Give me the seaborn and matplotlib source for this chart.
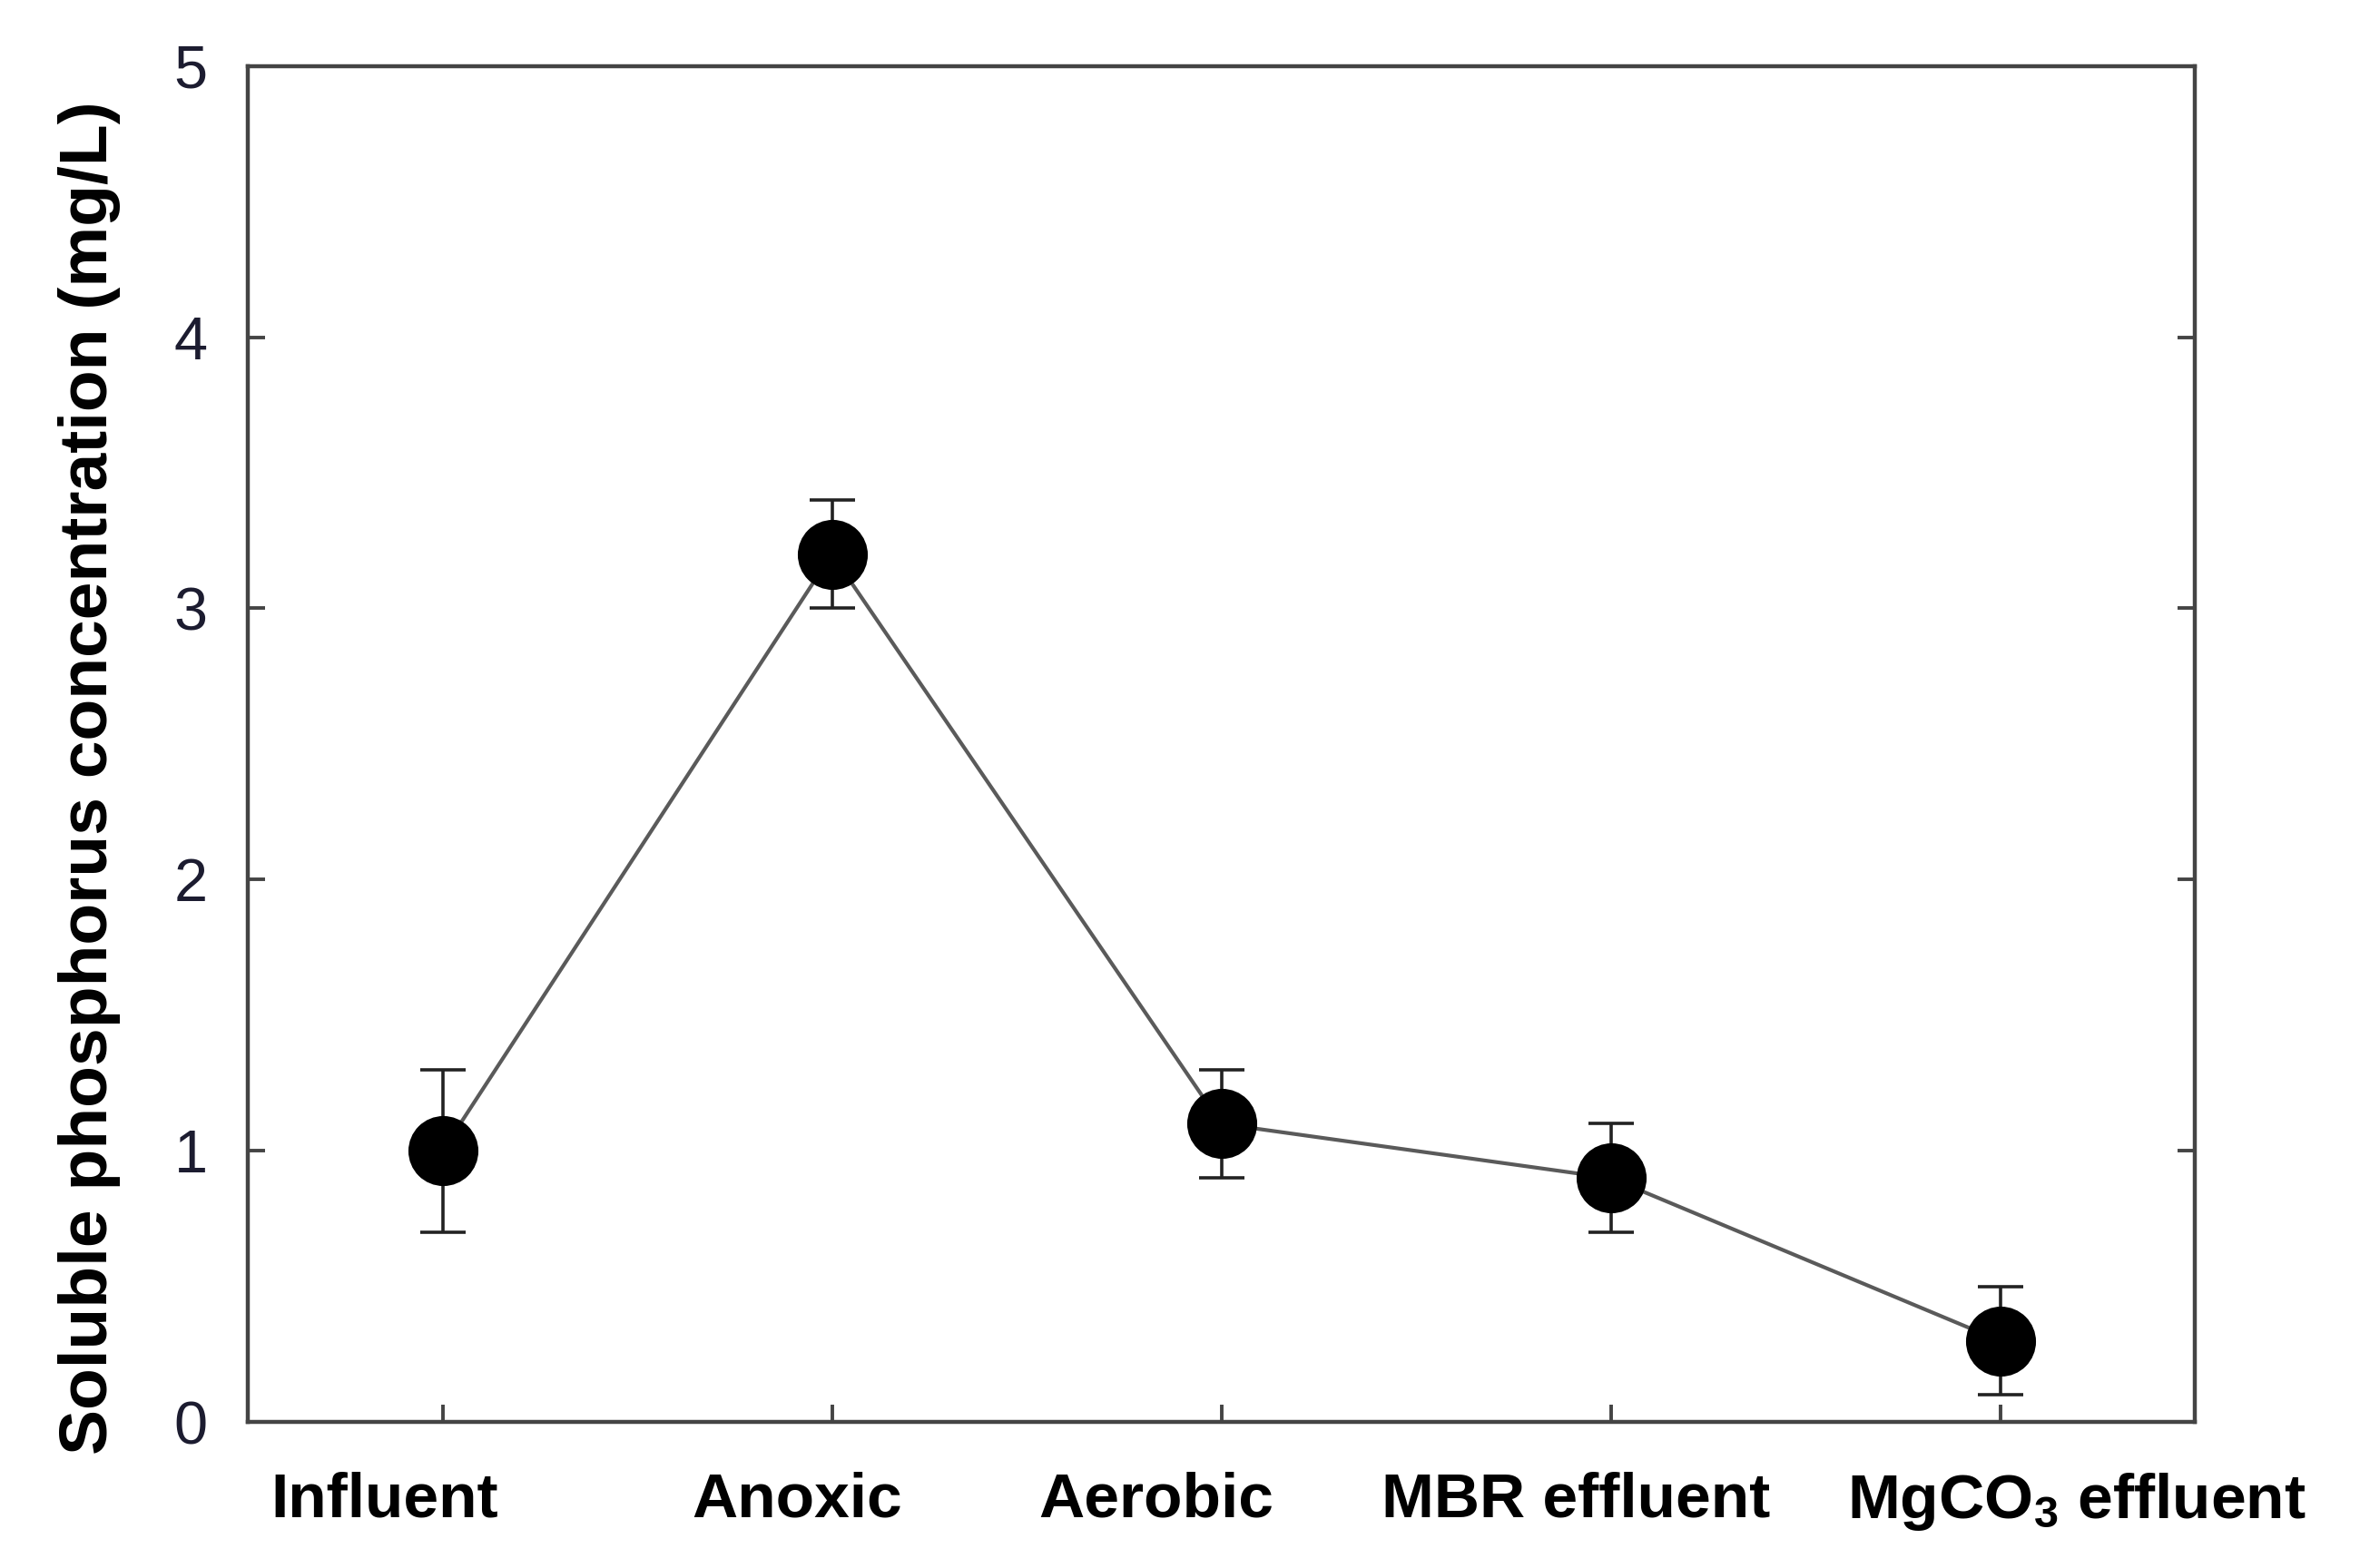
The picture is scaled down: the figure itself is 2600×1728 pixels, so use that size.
import matplotlib
matplotlib.use('Agg')
import matplotlib.pyplot as plt
import matplotlib.transforms as mtransforms
import seaborn as sns
import pandas as pd
import numpy as np

stages = ['Influent', 'Anoxic', 'Aerobic', 'MBR effluent', 'MgCO$_3$ effluent']
conc = [1.0, 3.2, 1.1, 0.9, 0.3]
err = [0.3, 0.2, 0.2, 0.2, 0.2]

# horizontal nudges of the category labels (inches), as placed in the original
label_shift = [-0.32, -0.19, -0.36, -0.19, 0.42]

sns.set_theme(style='white')
plt.rcParams['font.family'] = ['Liberation Sans', 'DejaVu Sans']
plt.rcParams['mathtext.fontset'] = 'custom'
plt.rcParams['mathtext.rm'] = 'Liberation Sans:bold'
plt.rcParams['mathtext.it'] = 'Liberation Sans:bold'
plt.rcParams['mathtext.bf'] = 'Liberation Sans:bold'

data = pd.DataFrame({'pos': np.arange(len(stages)), 'conc': conc, 'err': err})

fig = plt.figure(figsize=(13, 8.64), dpi=200)
ax = fig.add_axes([0.105, 0.093, 0.825, 0.865])

ax.errorbar(data['pos'], data['conc'], yerr=data['err'], fmt='none',
            ecolor='#222222', elinewidth=1.3, capsize=9, capthick=1.3, zorder=2)
sns.lineplot(data=data, x='pos', y='conc', ax=ax, color='#5a5a5a', linewidth=1.5,
             marker='o', markersize=27, markerfacecolor='black',
             markeredgecolor='black', zorder=3)

ax.set_xlim(-0.5, 4.5)
ax.set_ylim(0, 5)
ax.set_xticks(data['pos'])
ax.set_xticklabels([])
# category labels, nudged sideways like the original
for p, name, dx in zip(data['pos'], stages, label_shift):
    tr = ax.get_xaxis_transform() + mtransforms.ScaledTranslation(dx, 0, fig.dpi_scale_trans)
    ax.text(p, -0.036, name, transform=tr, ha='center', va='top', color='black',
            fontsize=25, fontweight='bold', clip_on=False)

ax.set_yticks([0, 1, 2, 3, 4, 5])
ax.set_yticklabels(['0', '1', '2', '3', '4', '5'], fontsize=24, color='#1c1c30')
ax.tick_params(axis='both', direction='in', length=7, width=1.4, color='#444444',
               right=True, left=True, bottom=True, top=False)
ax.tick_params(axis='y', pad=16)
ax.set_xlabel('')
ax.set_ylabel('Soluble phosphorus concentration (mg/L)', fontsize=27,
              fontweight='bold', labelpad=21, color='black')
ax.yaxis.label.set_y(0.475)
for s in ax.spines.values():
    s.set_color('#444444')
    s.set_linewidth(1.6)

fig.savefig('out.png', dpi=200, facecolor='white')
